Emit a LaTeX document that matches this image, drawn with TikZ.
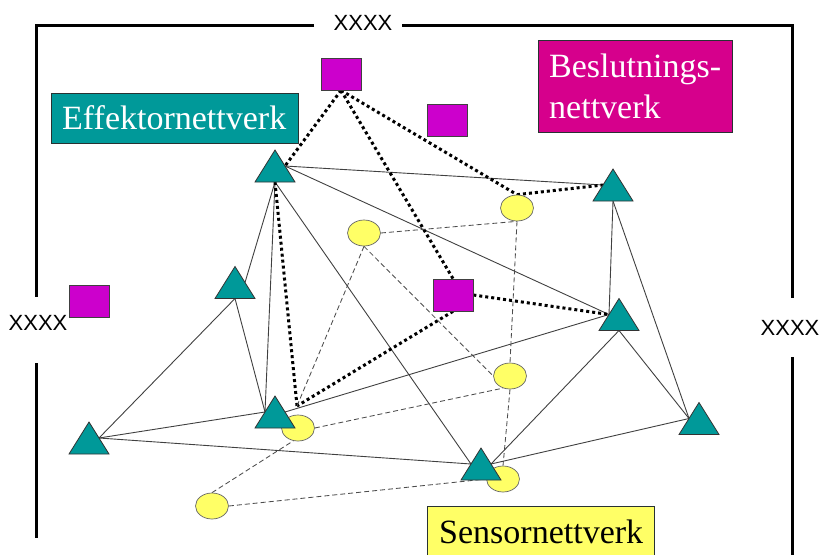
\documentclass[tikz,border=0pt]{standalone}
\usepackage{fontspec}
\setmainfont{Liberation Serif}
\newfontfamily\labelsans{Liberation Sans}
\usetikzlibrary{shapes.geometric}
\pgfdeclarelayer{bg}
\pgfsetlayers{bg,main}
\definecolor{effteal}{RGB}{0,153,153}
\definecolor{sqpurple}{RGB}{204,0,204}
\definecolor{decmagenta}{RGB}{214,0,140}
\definecolor{sensyellow}{RGB}{255,255,102}
\definecolor{edgedark}{RGB}{40,50,50}

\begin{document}
\begin{tikzpicture}[x=1pt,y=-1pt,
  frame/.style={line width=3pt,black},
  link/.style={line width=0.9pt,black!75},
  dashlink/.style={line width=0.85pt,black!70,dash pattern=on 5pt off 3pt},
  dotlink/.style={line width=3pt,black,dash pattern=on 3pt off 3pt},
  sensor/.style={ellipse,draw=black!60,line width=0.7pt,fill=sensyellow,
    minimum width=33pt,minimum height=26pt,inner sep=0pt},
  decider/.style={rectangle,draw=black!75,line width=0.7pt,fill=sqpurple,
    minimum width=40pt,minimum height=32pt,inner sep=0pt},
  trishape/.style={draw=black!80,line width=0.8pt,fill=effteal},
  tri/.pic={
    \path[trishape] (-20,16) -- (0,-16) -- (20,16) -- cycle;
    \coordinate (-l) at (-10,0);
    \coordinate (-r) at (10,0);
    \coordinate (-b) at (0,16);
    \coordinate (-a) at (0,-16);
  },
  netbox/.style={rectangle,draw=edgedark,line width=0.8pt,anchor=north west,inner sep=0pt},
  title/.style={font=\fontsize{34}{41}\selectfont,anchor=base west,inner sep=0pt},
  xlabel/.style={font=\labelsans\fontsize{22}{22}\selectfont,inner sep=0pt}
]
\useasboundingbox (0,0) rectangle (821,554);

% outer frame with its three labels
\node[xlabel] (xtop) at (363,23) {XXXX};
\node[xlabel] (xleft) at (38,323) {XXXX};
\node[xlabel] (xright) at (790,328) {XXXX};
\draw[frame] (314,25) -- (36.5,25) -- (36.5,297);
\draw[frame] (36.5,363) -- (36.5,538);
\draw[frame] (402,25) -- (792,25) -- (792,298);
\draw[frame] (792,357) -- (792,556);

% network titles
\node[netbox,fill=effteal,minimum width=247pt,minimum height=50pt] (effbox) at (51,93) {};
\node[title,text=white] (efftext) at (62,129) {Effektornettverk};
\node[netbox,fill=decmagenta,minimum width=194pt,minimum height=92pt] (decbox) at (538,40) {};
\node[title,text=white] (dectext1) at (549,77) {Beslutnings-};
\node[title,text=white] (dectext2) at (549,118) {nettverk};
\node[netbox,fill=sensyellow,minimum width=227pt,minimum height=60pt] (senbox) at (427,506) {};
\node[title,text=black] (sentext) at (439,543) {Sensornettverk};

% decision units
\node[decider] (s1) at (341,74) {};
\node[decider] (s2) at (447,120) {};
\node[decider] (s3) at (89.5,301) {};
\node[decider] (s4) at (453,295) {};

% sensors
\node[sensor] (e1) at (517,208) {};
\node[sensor] (e2) at (364,233) {};
\node[sensor] (e3) at (510,376) {};
\node[sensor] (e4) at (298,428) {};
\node[sensor] (e5) at (212,506) {};
\node[sensor] (e6) at (503,479) {};

% effectors
\pic (t1) at (275,166) {tri};
\pic (t2) at (613,185) {tri};
\pic (t3) at (235,282.5) {tri};
\pic (t4) at (619,314.5) {tri};
\pic (t5) at (89,438) {tri};
\pic (t6) at (275,412) {tri};
\pic (t7) at (481,464) {tri};
\pic (t8) at (699,418.5) {tri};

\coordinate (j2) at (297,406);

\begin{pgfonlayer}{bg}
  % effector links
  \draw[link] (t1-r) -- (t2-l);
  \draw[link] (t1-r) -- (t4-l);
  \draw[link] (t1-b) -- (t3-r);
  \draw[link] (t1-b) -- (t6-l);
  \draw[link] (t1-b) -- (t7-l);
  \draw[link] (t3-b) -- (t5-r);
  \draw[link] (t3-b) -- (t6-l);
  \draw[link] (t5-r) -- (t6-l);
  \draw[link] (t5-r) -- (t7-l);
  \draw[link] (t6-r) -- (t4-l);
  \draw[link] (t2-b) -- (t4-l);
  \draw[link] (t2-b) -- (t8-l);
  \draw[link] (t4-b) -- (t7-r);
  \draw[link] (t4-b) -- (t8-l);
  \draw[link] (t8-l) -- (t7-r);
  % decision links
  \draw[dotlink] (s1.south) -- (t1-r);
  \draw[dotlink] (s1.south) -- (s4.north);
  \draw[dotlink] (s1.south) -- (e1.north);
  \draw[dotlink] (e1.north) -- (t2-l);
  \draw[dotlink] (t1-b) -- (j2);
  \draw[dotlink] (s4.south) -- (j2);
  \draw[dotlink] (s4.east) -- (t4-l);
  % sensor links
  \draw[dashlink] (e2.east) -- (e1.south);
  \draw[dashlink] (e1.south) -- (e3.north);
  \draw[dashlink] (e2.south) -- (j2);
  \draw[dashlink] (e2.south) -- (e3.west);
  \draw[dashlink] (e4.east) -- (e3.-120);
  \draw[dashlink] (e3.south) -- (e6.north);
  \draw[dashlink] (e5.north) -- (e4.-110);
  \draw[dashlink] (e5.east) -- (e6.west);
\end{pgfonlayer}
\end{tikzpicture}
\end{document}
